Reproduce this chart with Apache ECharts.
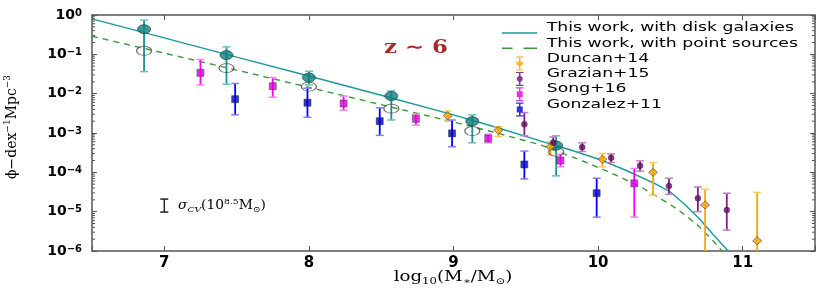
<!DOCTYPE html>
<html><head><meta charset="utf-8">
<script src="https://cdn.jsdelivr.net/npm/echarts@6/dist/echarts.min.js"></script>
<style>html,body{margin:0;padding:0;background:#fff}#c{width:830px;height:291px}</style>
</head><body><div id="c"></div>
<script>
// ---- axis ranges (log10 phi on y) ----
const X_MIN = 6.5, X_MAX = 11.5;
const Y_MIN = -6, Y_MAX = 0;

// ---- model curves (log10 phi) ----
const diskLineX = [6.5,7.0,7.5,8.0,8.5,9.0,9.3,9.6,9.8,10.0,10.2,10.4,10.5,10.6,10.7,10.8,10.9,10.95];
const diskLineY = [-0.10,-0.58,-1.07,-1.55,-2.04,-2.54,-2.86,-3.20,-3.42,-3.66,-3.96,-4.30,-4.50,-4.82,-5.18,-5.60,-6.0,-6.25];
const psLineX = [6.5,7.0,7.5,8.0,8.5,9.0,9.3,9.6,9.9,10.1,10.3,10.5,10.6,10.7,10.8,10.85,10.9];
const psLineY = [-0.54,-0.97,-1.40,-1.84,-2.28,-2.72,-3.00,-3.30,-3.72,-4.03,-4.38,-4.82,-5.08,-5.38,-5.76,-5.97,-6.2];

// ---- this work points ----
const workX   = [6.86,7.43,8.00,8.57,9.13,9.71];
const diskPts = [-0.36,-1.02,-1.59,-2.06,-2.70,-3.32];
const diskHi  = [-0.13,-0.81,-1.43,-1.93,-2.54,-3.07];
const diskLo  = [-1.44,-1.76,-1.78,-2.67,-3.25,-4.09];
const psPts   = [-0.91,-1.35,-1.82,-2.38,-2.95,-3.48];

// ---- literature ----
const duncanX  = [8.96,9.31,9.67,10.03,10.38,10.74,11.10];
const duncanY  = [-2.56,-2.93,-3.35,-3.67,-4.00,-4.83,-5.74];
const duncanHi = [-2.44,-2.84,-3.22,-3.52,-3.75,-4.43,-4.51];
const duncanLo = [-2.70,-3.09,-3.56,-3.86,-4.58,-7.0,-7.0];

const grazianX  = [9.49,9.69,9.89,10.09,10.29,10.49,10.69,10.89];
const grazianY  = [-2.78,-3.24,-3.36,-3.63,-3.83,-4.35,-4.66,-4.96];
const grazianHi = [-2.48,-3.10,-3.25,-3.53,-3.71,-4.15,-4.37,-4.53];
const grazianLo = [-3.07,-3.40,-3.47,-3.75,-3.97,-4.56,-5.00,-5.47];

const songX  = [7.25,7.75,8.24,8.74,9.24,9.74,10.25];
const songY  = [-1.47,-1.81,-2.25,-2.64,-3.14,-3.70,-4.28];
const songHi = [-1.13,-1.59,-2.06,-2.52,-3.03,-3.54,-3.90];
const songLo = [-1.78,-2.09,-2.42,-2.80,-3.25,-3.86,-5.14];

const gonzX  = [7.49,7.99,8.49,8.99,9.49,9.99];
const gonzY  = [-2.14,-2.23,-2.70,-3.01,-3.80,-4.53];
const gonzHi = [-1.74,-1.86,-2.36,-2.67,-3.46,-4.15];
const gonzLo = [-2.54,-2.60,-3.06,-3.35,-4.17,-5.14];

// cosmic variance bar
const cvX = [7.0], cvHi = [-4.68], cvLo = [-5.01];

const legendNames = ['This work, with disk galaxies','This work, with point sources','Duncan+14','Grazian+15','Song+16','Gonzalez+11'];

// ---------------------------------------------------------------
const SANS = 'DejaVu Sans', SERIF = 'DejaVu Serif';
const AX = '#555';
const pairs = (xs, ys) => xs.map((x, i) => [x, ys[i]]);

function errSeries(name, xs, lo, hi, color, capColor, w) {
  return {
    type: 'custom', name: name, silent: true, z: 3, clip: true,
    data: xs.map((x, i) => [x, lo[i], hi[i]]),
    encode: { x: 0, y: [1, 2] },
    renderItem(params, api) {
      const x = api.value(0);
      const a = api.coord([x, api.value(1)]);
      const b = api.coord([x, api.value(2)]);
      const cw = 4;
      return { type: 'group', children: [
        { type: 'line', shape: { x1: a[0], y1: a[1], x2: b[0], y2: b[1] }, style: { stroke: color, lineWidth: w } },
        { type: 'line', shape: { x1: a[0]-cw, y1: a[1], x2: a[0]+cw, y2: a[1] }, style: { stroke: capColor, lineWidth: 1.5 } },
        { type: 'line', shape: { x1: b[0]-cw, y1: b[1], x2: b[0]+cw, y2: b[1] }, style: { stroke: capColor, lineWidth: 1.5 } }
      ]};
    }
  };
}

const minorVals = [];
for (let n = Y_MIN; n < Y_MAX; n++) for (let k = 2; k <= 9; k++) minorVals.push(n + Math.log10(k));

// legend icons (35x14 box, corner dots pin the bounding box)
const pin = 'M0,0 L0.01,0 L0.01,0.01 Z M35,14 L34.99,14 L34.99,13.99 Z ';
const bar = 'M17,0 L18.5,0 L18.5,14 L17,14 Z M14,0 L21.5,0 L21.5,1.2 L14,1.2 Z M14,12.8 L21.5,12.8 L21.5,14 L14,14 Z ';
const iconDiamond = 'path://' + pin + bar + 'M17.75,3.5 L21.8,7 L17.75,10.5 L13.7,7 Z';
const iconSquare = 'path://' + pin + bar + 'M14.75,4 L20.75,4 L20.75,10 L14.75,10 Z';
const iconDot = 'path://' + pin + bar + 'M16.5,4.2 L19,4.2 L20.6,5.8 L20.6,8.2 L19,9.8 L16.5,9.8 L14.9,8.2 L14.9,5.8 Z';
const iconSolid = 'path://' + pin + 'M0,6.3 L35,6.3 L35,7.7 L0,7.7 Z';
const iconDashed = 'path://' + pin + 'M0,6.3 L10.5,6.3 L10.5,7.7 L0,7.7 Z M21.5,6.3 L35,6.3 L35,7.7 L21.5,7.7 Z';

const chart = echarts.init(document.getElementById('c'), null, { renderer: 'canvas' });

const axisBase = (pos, isX) => ({
  type: 'value', min: isX ? X_MIN : Y_MIN, max: isX ? X_MAX : Y_MAX, position: pos,
  axisLine: { show: true, onZero: false, lineStyle: { color: AX, width: 1.5 } },
  axisTick: { show: true, inside: true, length: 5, lineStyle: { color: AX, width: 1 } },
  splitLine: { show: false }
});

const option = {
  animation: false,
  backgroundColor: '#fff',
  grid: { left: 92, top: 15, width: 723, height: 236 },
  legend: {
    orient: 'vertical', left: 497, top: 21, itemWidth: 35, itemHeight: 14, itemGap: 1.3,
    formatter: () => '', selectedMode: false,
    textStyle: { fontSize: 1 },
    data: [
      { name: legendNames[0], icon: iconSolid, itemStyle: { borderWidth: 0 } },
      { name: legendNames[1], icon: iconDashed, itemStyle: { borderWidth: 0 } },
      { name: legendNames[2], icon: iconDiamond, itemStyle: { borderWidth: 0 } },
      { name: legendNames[3], icon: iconDot, itemStyle: { borderWidth: 0 } },
      { name: legendNames[4], icon: iconSquare, itemStyle: { borderWidth: 0 } },
      { name: legendNames[5], icon: iconSquare, itemStyle: { borderWidth: 0 } }
    ]
  },
  xAxis: [
    Object.assign(axisBase('bottom', true), {
      axisLabel: { margin: 5, color: '#000', fontFamily: SANS, fontWeight: 'bold', fontSize: 15,
        formatter: v => Math.abs(v - Math.round(v)) < 1e-9 ? String(Math.round(v)) : '' }
    }),
    Object.assign(axisBase('top', true), { axisLabel: { show: false } })
  ],
  yAxis: [
    Object.assign(axisBase('left', false), {
      interval: 1,
      axisLabel: { margin: 10, color: '#000',
        formatter: v => '{b|10}{s|' + (v === 0 ? '0' : '\u2212' + Math.abs(v)) + '}',
        rich: {
          b: { fontFamily: SANS, fontWeight: 'bold', fontSize: 14, lineHeight: 14, color: '#000' },
          s: { fontFamily: SANS, fontWeight: 'bold', fontSize: 10, lineHeight: 10, verticalAlign: 'top', color: '#000' }
        }
      }
    }),
    Object.assign(axisBase('right', false), { interval: 1, axisLabel: { show: false } })
  ],
  series: [
    { type: 'custom', name: 'minor', silent: true, z: 1, data: minorVals.map(v => [X_MIN, v]), encode: { x: 0, y: 1 },
      renderItem(params, api) {
        const v = api.value(1);
        const l = api.coord([X_MIN, v]), r = api.coord([X_MAX, v]);
        return { type: 'group', children: [
          { type: 'line', shape: { x1: l[0], y1: l[1], x2: l[0] + 3, y2: l[1] }, style: { stroke: AX, lineWidth: 1 } },
          { type: 'line', shape: { x1: r[0], y1: r[1], x2: r[0] - 3, y2: r[1] }, style: { stroke: AX, lineWidth: 1 } }
        ]};
      } },
    { type: 'line', name: legendNames[0], data: pairs(diskLineX, diskLineY), symbol: 'none', clip: true, z: 2,
      lineStyle: { color: '#1a9a9a', width: 1.4 }, itemStyle: { color: '#1a9a9a' } },
    { type: 'line', name: legendNames[1], data: pairs(psLineX, psLineY), symbol: 'none', clip: true, z: 2,
      lineStyle: { color: '#3a9a3a', width: 1.4, type: [6, 5] }, itemStyle: { color: '#3a9a3a' } },

    errSeries('disk err', workX, diskLo, diskHi, '#1a9090', '#6cc0c0', 1.8),
    errSeries('duncan err', duncanX, duncanLo, duncanHi, '#ffa500', '#ffc860', 1.8),
    errSeries('grazian err', grazianX, grazianLo, grazianHi, '#8a1a8a', '#c080c0', 1.8),
    errSeries('song err', songX, songLo, songHi, '#ff00ff', '#ff80ff', 1.8),
    errSeries('gonz err', gonzX, gonzLo, gonzHi, '#0000ff', '#8080ff', 1.8),
    errSeries('cv', cvX, cvLo, cvHi, '#222', '#222', 1.4),

    { type: 'scatter', name: 'ps pts', data: pairs(workX, psPts), symbol: 'circle', symbolSize: [15, 9], z: 4, silent: true,
      itemStyle: { color: 'rgba(255,255,255,0)', borderColor: '#444', borderWidth: 1 } },
    { type: 'scatter', name: 'disk pts', data: pairs(workX, diskPts), symbol: 'circle', symbolSize: [13, 9], z: 5, silent: true,
      itemStyle: { color: '#0f7f7c', borderColor: '#0a4646', borderWidth: 0.8 } },
    { type: 'scatter', name: legendNames[2], data: pairs(duncanX, duncanY), symbol: 'diamond', symbolSize: [9, 8], z: 5, silent: true,
      itemStyle: { color: '#ffa500', borderColor: '#333', borderWidth: 0.7 } },
    { type: 'scatter', name: legendNames[3], data: pairs(grazianX, grazianY), symbol: 'circle', symbolSize: 6, z: 5, silent: true,
      itemStyle: { color: '#6a0a6a', borderColor: '#333', borderWidth: 0.5 } },
    { type: 'scatter', name: legendNames[4], data: pairs(songX, songY), symbol: 'rect', symbolSize: 7, z: 5, silent: true,
      itemStyle: { color: '#dd00dd', borderColor: '#333', borderWidth: 0.6 } },
    { type: 'scatter', name: legendNames[5], data: pairs(gonzX, gonzY), symbol: 'rect', symbolSize: 7, z: 5, silent: true,
      itemStyle: { color: '#0000cc', borderColor: '#222', borderWidth: 0.6 } }
  ],
  graphic: [
    // legend labels
    ...legendNames.map((t, i) => ({ type: 'text', x: 546.7, y: 28.3 + i * 15.3, scaleX: 1.5, z: 10,
      style: { text: t, fontFamily: SANS, fontSize: 11.5, fill: '#000', align: 'left', verticalAlign: 'middle' } })),
    { type: 'text', x: 416, y: 48, scaleX: 1.2, z: 10,
      style: { text: 'z \u223c 6', fontFamily: SERIF, fontWeight: 'bold', fontSize: 19, fill: '#a52a2a', align: 'center', verticalAlign: 'middle' } },
    { type: 'text', x: 178, y: 206, scaleX: 1.15, z: 10,
      style: { text: '{i|\u03c3}{sub|CV}{n|(10}{sup|8.5}{n|M}{sub|\u2299}{n|)}', align: 'left', verticalAlign: 'middle',
        rich: {
          i: { fontFamily: SERIF, fontStyle: 'italic', fontSize: 12, lineHeight: 16, fill: '#000' },
          n: { fontFamily: SERIF, fontSize: 12, lineHeight: 16, fill: '#000' },
          sub: { fontFamily: SERIF, fontStyle: 'italic', fontSize: 8, lineHeight: 9, verticalAlign: 'bottom', fill: '#000' },
          sup: { fontFamily: SERIF, fontSize: 8, lineHeight: 9, verticalAlign: 'top', fill: '#000' }
        } } },
    { type: 'text', x: 453, y: 277, scaleX: 1.3, z: 10,
      style: { text: '{n|log}{sub|10}{n|(M}{sub|\u2217}{n|/M}{sub|\u2299}{n|)}', align: 'center', verticalAlign: 'middle',
        rich: {
          n: { fontFamily: SERIF, fontSize: 14, lineHeight: 18, fill: '#000' },
          sub: { fontFamily: SERIF, fontSize: 9, lineHeight: 10, verticalAlign: 'bottom', fill: '#000' }
        } } },
    { type: 'text', x: 12, y: 127, rotation: Math.PI / 2, z: 10,
      style: { text: '{n|\u03d5\u2212dex}{sup|\u22121}{n|Mpc}{sup|\u22123}', align: 'center', verticalAlign: 'middle',
        rich: {
          n: { fontFamily: SERIF, fontSize: 14, lineHeight: 18, fill: '#000' },
          sup: { fontFamily: SERIF, fontSize: 9, lineHeight: 10, verticalAlign: 'top', fill: '#000' }
        } } }
  ]
};
chart.setOption(option);
</script>
</body></html>
